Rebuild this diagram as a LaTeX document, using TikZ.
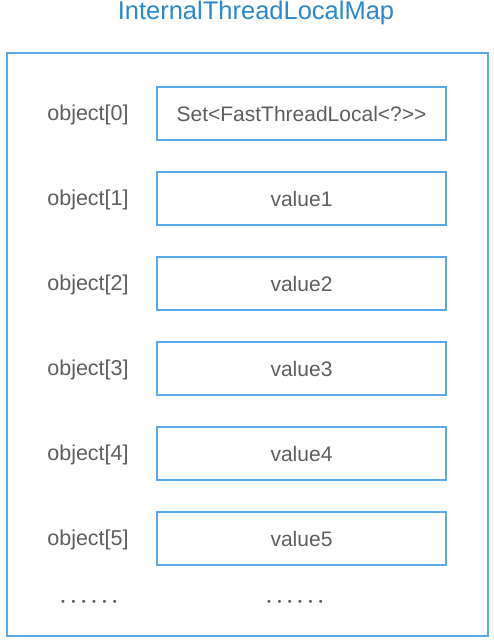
\documentclass[tikz,border=0pt]{standalone}
\usepackage{fontspec}
\setmainfont{Liberation Sans}[Ligatures=NoCommon]

\definecolor{mapBlue}{HTML}{2B88D0}
\definecolor{boxBlue}{HTML}{5BA8EC}
\definecolor{textGray}{HTML}{5E5E5E}

\newcommand{\sixDots}{\textbullet\hspace{6.5pt}\textbullet\hspace{6.5pt}\textbullet\hspace{6.5pt}\textbullet\hspace{6.5pt}\textbullet\hspace{6.5pt}\textbullet}

\tikzstyle{slot}=[draw=boxBlue,line width=2.2pt,minimum width=289pt,minimum height=53pt,inner sep=0pt,text=textGray,font=\fontsize{21}{24}\selectfont]
\tikzstyle{index}=[text=textGray,font=\fontsize{21.5}{24}\selectfont]
\tikzstyle{more}=[text=textGray,font=\fontsize{11}{12}\selectfont]

\begin{document}
\begin{tikzpicture}[x=1pt, y=-1pt]
	\useasboundingbox (0,0) rectangle (493,640);

	% Rahmen und Titel
	\node(title) at (256,13) [text=mapBlue, font=\fontsize{25.5}{28}\selectfont] {InternalThreadLocalMap};
	\draw[boxBlue, line width=2pt] (7,53) rectangle (488,636);

	% Eintraege
	\node(slot0) at (301.5,113.5) [slot] {Set<FastThreadLocal<?{>}{>}};
	\node(idx0) at (88,115) [index] {object[0]};
	\foreach \i in {1,...,5}
		{
			\node(slot\i) at (301.5,113.5+85*\i) [slot] {value\i};
			\node(idx\i) at (88,115+85*\i) [index] {object[\i]};
		}

	% Punkte
	\node(dotsIdx) at (89,603) [more] {\sixDots};
	\node(dotsSlot) at (295,603) [more] {\sixDots};

\end{tikzpicture}
\end{document}
